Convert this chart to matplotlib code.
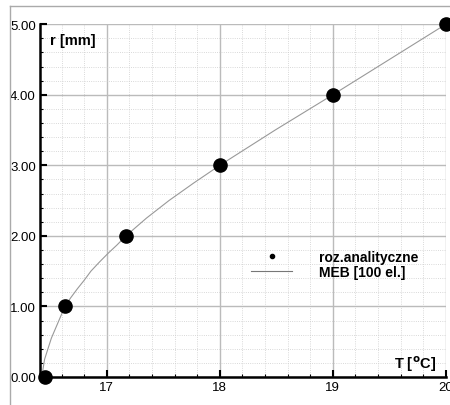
import numpy as np
import matplotlib.pyplot as plt
from matplotlib.lines import Line2D
from matplotlib.ticker import MultipleLocator, FormatStrFormatter

# punkty analityczne
T_anal = [16.45, 16.63, 17.17, 18.0, 19.0, 20.0]
r_anal = [0.0, 1.0, 2.0, 3.0, 4.0, 5.0]

# krzywa MEB
T_meb = [16.43, 16.435, 16.45, 16.48, 16.51, 16.55, 16.59, 16.63, 16.68, 16.74,
         16.80, 16.86, 16.93, 17.01, 17.09, 17.17, 17.35, 17.55, 17.77, 18.0,
         18.49, 19.0, 19.5, 20.0]
r_meb = [0.0, 0.1, 0.25, 0.4, 0.55, 0.7, 0.85, 1.0, 1.12, 1.25,
         1.37, 1.5, 1.62, 1.75, 1.87, 2.0, 2.25, 2.5, 2.75, 3.0,
         3.5, 4.0, 4.5, 5.0]

plt.rcParams['font.family'] = ['Liberation Sans', 'DejaVu Sans']

fig = plt.figure(figsize=(4.5, 4.06), dpi=100)
ax = fig.add_axes([0.089, 0.069, 0.902, 0.869])

# szara ramka obrazka
fig.add_artist(Line2D([0.022, 1.0], [0.983, 0.983], color='#aaaaaa', lw=1))
fig.add_artist(Line2D([0.022, 0.022], [0.0, 0.983], color='#aaaaaa', lw=1))

ax.plot(T_meb, r_meb, color='#999999', lw=0.8, zorder=3)
ax.plot(T_anal, r_anal, 'o', color='black', ms=9.5, clip_on=False, zorder=4)

ax.set_xlim(16.41, 20.0)
ax.set_ylim(0, 5.0)
ax.xaxis.set_major_locator(MultipleLocator(1))
ax.xaxis.set_minor_locator(MultipleLocator(0.2))
ax.yaxis.set_major_locator(MultipleLocator(1))
ax.yaxis.set_minor_locator(MultipleLocator(0.2))
ax.yaxis.set_major_formatter(FormatStrFormatter('%.2f'))

ax.grid(which='major', color='#bbbbbb', lw=1)
ax.grid(which='minor', color='#cccccc', lw=0.6, ls=':')
ax.set_axisbelow(True)

for s in ['top', 'right']:
    ax.spines[s].set_visible(False)
for s in ['left', 'bottom']:
    ax.spines[s].set_linewidth(1.8)
ax.tick_params(which='major', direction='in', length=5, width=1.5, labelsize=9.5, pad=3)
ax.tick_params(which='minor', direction='in', length=2.5, width=0.8)

ax.text(0.025, 0.975, 'r [mm]', transform=ax.transAxes, fontsize=10.5,
        fontweight='bold', ha='left', va='top')
ax.text(0.975, 0.04, r'T [$\mathbf{^{o}}$C]', transform=ax.transAxes, fontsize=10.5,
        fontweight='bold', ha='right', va='center')

handles = [Line2D([], [], marker='o', ls='none', color='black', ms=3),
           Line2D([], [], color='#777777', lw=0.8)]
ax.legend(handles, ['roz.analityczne', 'MEB [100 el.]'], loc='upper left',
          bbox_to_anchor=(0.49, 0.395), frameon=False, handlelength=2.9,
          handletextpad=2.0, labelspacing=0.05,
          prop={'weight': 'bold', 'size': 10})

fig.savefig('out.png', dpi=100)
